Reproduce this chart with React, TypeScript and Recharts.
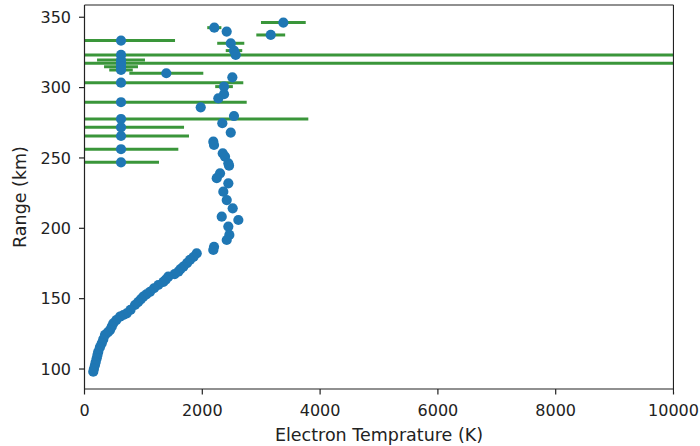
import React from 'react';
import { ScatterChart, Scatter, XAxis, YAxis, ReferenceLine } from 'recharts';

// Points that carry horizontal error bars
const errTemps = [620, 620, 620, 620, 620, 620, 620, 620, 620, 620, 620, 620, 620, 3376, 3162, 2204, 2483, 1389, 2538, 2369];
const errRanges = [333.4, 323.2, 319.6, 317.3, 314.9, 312.5, 303.5, 289.6, 277.7, 271.8, 265.6, 256.2, 246.9, 346.2, 337.4, 342.6, 331.5, 310.2, 326.3, 300.7];
const errSizes = [917, 12000, 407, 12000, 288, 200, 2076, 2134, 3180, 1070, 1154, 973, 645, 380, 245, 120, 230, 628, 140, 150];

// Remaining points (no error bar)
const plainTemps = [
  2414, 2567, 2510, 2369, 2272, 1973, 2538, 2340, 2483, 2187, 2199, 2347, 2386, 2442, 2454, 2301, 2245, 2442, 2357, 2415,
  2516, 2330, 2612, 2442, 2459, 2415, 2199, 2187,
  1905, 1850, 1791, 1740, 1678, 1630, 1593, 1530, 1423, 1380, 1340, 1253, 1180, 1112, 1050, 998, 955, 910, 857, 780,
  717, 660, 603, 540, 489, 462, 433, 395, 348, 318, 292, 262, 234, 220, 207, 190, 178, 160, 149,
];
const plainRanges = [
  339.8, 323.2, 307.3, 295.3, 292.4, 286.0, 279.8, 274.7, 268.0, 261.6, 259.2, 253.3, 250.9, 246.2, 244.5, 239.1, 235.6, 232.0, 226.0, 220.1,
  214.2, 208.3, 205.9, 201.2, 195.3, 191.7, 186.9, 184.6,
  182.2, 179.6, 177.5, 175.2, 172.7, 171.0, 169.2, 167.5, 165.6, 163.6, 162.0, 159.7, 157.4, 154.9, 153.0, 151.4, 149.5, 147.6, 145.5, 142.0,
  139.6, 138.4, 137.2, 134.8, 132.5, 130.1, 127.7, 126.0, 124.2, 121.0, 118.3, 115.5, 112.3, 110.0, 107.6, 104.9, 102.8, 100.2, 98.1,
];

const xTicks = [0, 2000, 4000, 6000, 8000, 10000];
const yTicks = [100, 150, 200, 250, 300, 350];
const xDomain = [0, 10000];
const yDomain = [85.8, 358.7];

// each error bar = a segment, limited to the visible x range (the axes clip it)
const errSegments = errTemps.map((t, i) => [
  { x: Math.max(xDomain[0], t - errSizes[i]), y: errRanges[i] },
  { x: Math.min(xDomain[1], t + errSizes[i]), y: errRanges[i] },
]);
const allData = [
  ...errTemps.map((t, i) => ({ t, r: errRanges[i] })),
  ...plainTemps.map((t, i) => ({ t, r: plainRanges[i] })),
];

const INK = '#222';
const BLUE = '#1f77b4';
const GREEN = '#3a963a';

const Dot = (props: any) => {
  if (props.cx == null || props.cy == null) return <g />;
  return <circle cx={props.cx} cy={props.cy} r={5.1} fill={BLUE} />;
};

const XLabel = (props: any) => {
  const vb = props.viewBox || { x: 84.5, y: 389, width: 589, height: 57 };
  return (
    <text x={vb.x + vb.width / 2} y={vb.y + 51.7} textAnchor="middle" fontSize={17.5} fill={INK}>
      Electron Temprature (K)
    </text>
  );
};

const YLabel = (props: any) => {
  const vb = props.viewBox || { x: 0, y: 5, width: 84.5, height: 384 };
  const x = vb.x + 26;
  const y = vb.y + vb.height / 2;
  return (
    <text x={x} y={y} textAnchor="middle" fontSize={17.5} fill={INK} transform={`rotate(-90, ${x}, ${y})`}>
      Range (km)
    </text>
  );
};

export default function App() {
  return (
    <div style={{ position: 'absolute', left: 0, top: 0, width: 700, height: 446, fontFamily: 'DejaVu Sans', background: '#fff' }}>
      <ScatterChart width={700} height={446} margin={{ top: 5, right: 26.5, bottom: 0, left: 0 }}>
        <XAxis
          type="number"
          dataKey="t"
          domain={xDomain}
          ticks={xTicks}
          allowDataOverflow
          height={57}
          tickSize={5.5}
          tickMargin={10}
          stroke={INK}
          strokeWidth={1.2}
          tick={{ fontSize: 16, fill: INK }}
          label={{ content: XLabel }}
        />
        <YAxis
          type="number"
          dataKey="r"
          domain={yDomain}
          ticks={yTicks}
          allowDataOverflow
          width={84.5}
          tickSize={5.5}
          tickMargin={8}
          stroke={INK}
          strokeWidth={1.2}
          tick={{ fontSize: 16, fill: INK }}
          label={{ content: YLabel }}
        />
        {errSegments.map((seg, i) => (
          <ReferenceLine key={`err-${i}`} segment={seg} stroke={GREEN} strokeWidth={3} />
        ))}
        <Scatter data={allData} shape={Dot} isAnimationActive={false} />
        <ReferenceLine x={10000} stroke={INK} strokeWidth={1.2} />
        <ReferenceLine y={yDomain[1]} stroke={INK} strokeWidth={1.2} />
      </ScatterChart>
      {/* empty right margin beside the plot frame */}
      <div style={{ position: 'absolute', left: 674.2, top: 0, width: 25.8, height: 392, background: '#fff' }} />
    </div>
  );
}
